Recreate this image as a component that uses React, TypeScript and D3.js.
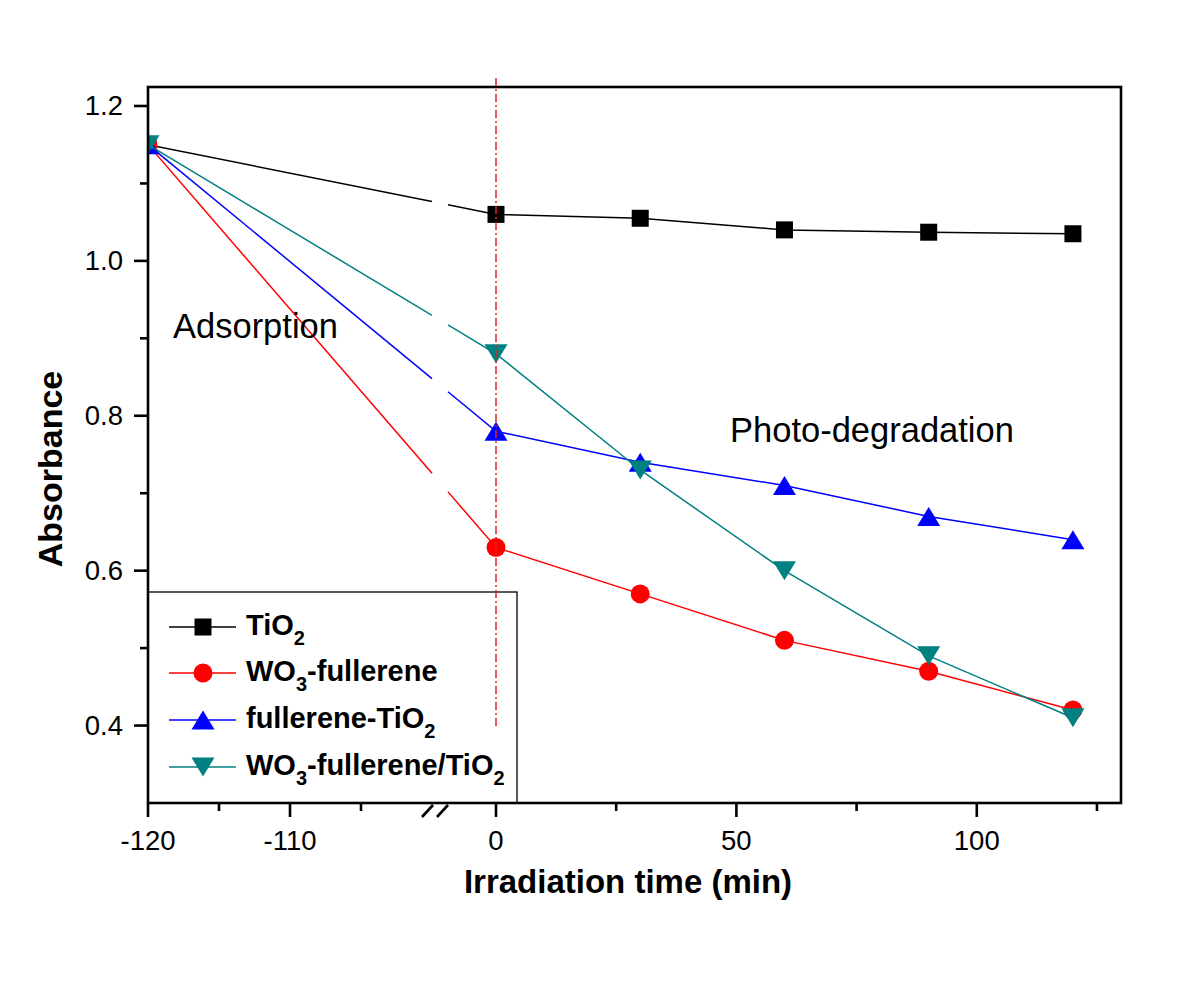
import React from "react";
import * as d3 from "d3";

const times = [-120, 0, 30, 60, 90, 120];
const tio2 = [1.15, 1.06, 1.055, 1.04, 1.037, 1.035];
const wo3Fullerene = [1.15, 0.63, 0.57, 0.51, 0.47, 0.42];
const fullereneTio2 = [1.15, 0.78, 0.74, 0.71, 0.67, 0.64];
const wo3FullereneTio2 = [1.15, 0.88, 0.73, 0.6, 0.49, 0.41];

const yTicksMajor = [0.4, 0.6, 0.8, 1.0, 1.2];
const yTicksMinor = [0.5, 0.7, 0.9, 1.1];
const xLeftMajor = [-120, -110];
const xLeftMinor = [-115, -105];
const xRightMajor = [0, 50, 100];
const xRightMinor = [25, 75, 125];

type Series = { name: string; values: number[]; color: string; marker: string };
const series: Series[] = [
  { name: "TiO2", values: tio2, color: "#000000", marker: "square" },
  { name: "WO3-fullerene", values: wo3Fullerene, color: "#ff0000", marker: "circle" },
  { name: "fullerene-TiO2", values: fullereneTio2, color: "#0000ff", marker: "up" },
  { name: "WO3-fullerene/TiO2", values: wo3FullereneTio2, color: "#008080", marker: "down" },
];

const FONT = "'Liberation Sans', Arial, Helvetica, sans-serif";

const L = 148, R = 1121, T = 87, B = 803;
const xLeft = d3.scaleLinear().domain([-120, -100]).range([148, 432]);
const xRight = d3.scaleLinear().domain([0, 130]).range([496, 1121]);
const y = d3.scaleLinear().domain([0.3, 1.2245]).range([B, T]);
const xPos = (t: number) => (t < -50 ? xLeft(t) : xRight(t));
const gapA = 432, gapB = 448;

function Marker({ kind, cx, cy, color }: { kind: string; cx: number; cy: number; color: string }) {
  if (kind === "square") return <rect x={cx - 8.5} y={cy - 8.5} width={17} height={17} fill={color} />;
  if (kind === "circle") return <circle cx={cx} cy={cy} r={9.5} fill={color} />;
  const w = 11.5, h = 9.5;
  if (kind === "up")
    return <path d={`M${cx - w},${cy + h}L${cx + w},${cy + h}L${cx},${cy - h}Z`} fill={color} />;
  return <path d={`M${cx - w},${cy - h}L${cx + w},${cy - h}L${cx},${cy + h}Z`} fill={color} />;
}

function LabelText({ text, x, yy, size, sub }: { text: string; x: number; yy: number; size: number; sub: number }) {
  const parts: { s: string; sub: boolean }[] = [];
  const re = /(O)(\d)/g;
  let last = 0;
  let m: RegExpExecArray | null;
  while ((m = re.exec(text))) {
    parts.push({ s: text.slice(last, m.index + 1), sub: false });
    parts.push({ s: m[2], sub: true });
    last = m.index + 2;
  }
  if (last < text.length) parts.push({ s: text.slice(last), sub: false });
  return (
    <text x={x} y={yy} fontFamily={FONT} fontWeight="bold" fontSize={size} fill="#000">
      {parts.map((p, i) =>
        p.sub ? (
          <tspan key={i} fontSize={sub} dy={10}>{p.s}</tspan>
        ) : (
          <tspan key={i} dy={i > 0 && parts[i - 1].sub ? -10 : 0}>{p.s}</tspan>
        )
      )}
    </text>
  );
}

export default function App() {
  const lines = series.map((s) => {
    const pts = times.map((t, i) => [xPos(t), y(s.values[i])] as [number, number]);
    const [p0, p1] = [pts[0], pts[1]];
    const interp = (x: number) => p0[1] + ((x - p0[0]) / (p1[0] - p0[0])) * (p1[1] - p0[1]);
    const seg1 = d3.line()([p0, [gapA, interp(gapA)]]);
    const seg2 = d3.line()([[gapB, interp(gapB)], ...pts.slice(1)]);
    return { s, pts, seg1, seg2 };
  });

  const legendRows = [627, 673, 720, 767];

  return (
    <svg width={1200} height={985} style={{ position: "absolute", left: 0, top: 0, background: "#fff" }}>
      <defs>
        <clipPath id="plotClip">
          <rect x={L} y={T} width={R - L} height={B - T} />
        </clipPath>
      </defs>
      <rect x={0} y={0} width={1200} height={985} fill="#fff" />

      <g clipPath="url(#plotClip)">
        {lines.map(({ s, pts, seg1, seg2 }) => (
          <g key={s.name}>
            <path d={seg1 || ""} stroke={s.color} strokeWidth={1.5} fill="none" />
            <path d={seg2 || ""} stroke={s.color} strokeWidth={1.5} fill="none" />
            {pts.map((p, i) => (
              <Marker key={i} kind={s.marker} cx={p[0]} cy={p[1]} color={s.color} />
            ))}
          </g>
        ))}
      </g>

      <rect x={L} y={592} width={517 - L} height={B - 592} fill="none" stroke="#000" strokeWidth={1.3} />
      {series.map((s, i) => (
        <g key={s.name}>
          <line x1={169} x2={236} y1={legendRows[i]} y2={legendRows[i]} stroke={s.color} strokeWidth={1.5} />
          <Marker kind={s.marker} cx={203} cy={legendRows[i]} color={s.color} />
          <LabelText text={s.name} x={246} yy={legendRows[i] + 8} size={29} sub={20} />
        </g>
      ))}

      <rect x={L} y={T} width={R - L} height={B - T} fill="none" stroke="#000" strokeWidth={2.6} />

      {yTicksMajor.map((v) => (
        <g key={v}>
          <line x1={134} x2={L} y1={y(v)} y2={y(v)} stroke="#000" strokeWidth={2.6} />
          <text x={123} y={y(v) + 9.5} textAnchor="end" fontFamily={FONT} fontSize={27.5} fill="#000">
            {d3.format(".1f")(v)}
          </text>
        </g>
      ))}
      {yTicksMinor.map((v) => (
        <line key={v} x1={140} x2={L} y1={y(v)} y2={y(v)} stroke="#000" strokeWidth={2.6} />
      ))}

      {[...xLeftMajor.map((t) => xLeft(t)), ...xRightMajor.map((t) => xRight(t))].map((x, i) => (
        <line key={"M" + i} x1={x} x2={x} y1={B} y2={B + 14} stroke="#000" strokeWidth={2.6} />
      ))}
      {[...xLeftMinor.map((t) => xLeft(t)), ...xRightMinor.map((t) => xRight(t))].map((x, i) => (
        <line key={"m" + i} x1={x} x2={x} y1={B} y2={B + 8} stroke="#000" strokeWidth={2.6} />
      ))}
      {xLeftMajor.map((t) => (
        <text key={t} x={xLeft(t)} y={850} textAnchor="middle" fontFamily={FONT} fontSize={27.5} fill="#000">
          {t}
        </text>
      ))}
      {xRightMajor.map((t) => (
        <text key={t} x={xRight(t)} y={850} textAnchor="middle" fontFamily={FONT} fontSize={27.5} fill="#000">
          {t}
        </text>
      ))}

      <line x1={422} y1={817} x2={433} y2={805} stroke="#000" strokeWidth={2.6} />
      <line x1={437} y1={817} x2={448} y2={805} stroke="#000" strokeWidth={2.6} />

      <line
        x1={xRight(0)}
        x2={xRight(0)}
        y1={78}
        y2={y(0.4) + 2}
        stroke="#e0202a"
        strokeWidth={1.5}
        strokeDasharray="8,3,2,3"
      />

      <text x={173} y={338} fontFamily={FONT} fontSize={34.5} fill="#000">Adsorption</text>
      <text x={730} y={442} fontFamily={FONT} fontSize={34.5} fill="#000">Photo-degradation</text>

      <text
        transform="translate(62,469) rotate(-90)"
        textAnchor="middle"
        fontFamily={FONT}
        fontWeight="bold"
        fontSize={34}
        fill="#000"
      >
        Absorbance
      </text>
      <text x={628} y={893} textAnchor="middle" fontFamily={FONT} fontWeight="bold" fontSize={33} fill="#000">
        Irradiation time (min)
      </text>
    </svg>
  );
}
